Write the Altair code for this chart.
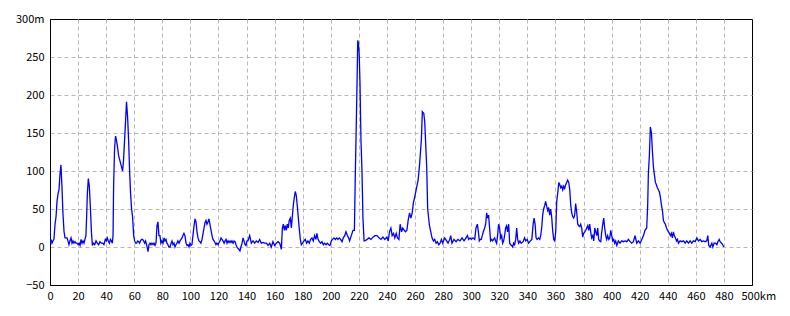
import altair as alt
import pandas as pd

# distance along route (km)
km = [
    0, 0.1, 0.7, 1.4, 2.1, 2.8, 3.6, 4.3, 5.0, 5.7, 6.4, 7.1, 7.8, 8.5, 9.2, 10.0, 10.7, 11.4, 12.1, 12.8,
    13.5, 14.2, 15.0, 15.7, 16.4, 17.1, 17.8, 18.5, 19.2, 20.0, 20.7, 21.4, 22.1, 22.8, 23.5, 24.2, 24.9, 25.6, 26.1, 26.6,
    27.3, 28.0, 28.7, 29.5, 30.2, 30.9, 31.8, 32.8, 33.7, 34.6, 35.6, 36.5, 37.5, 38.4, 39.4, 40.1, 40.8, 41.5, 42.3, 43.0,
    43.7, 44.4, 44.9, 45.3, 46.0, 46.7, 47.4, 48.2, 48.9, 49.6, 50.3, 51.0, 51.7, 52.4, 53.1, 53.8, 54.5, 55.3, 56.0, 56.7,
    57.4, 58.1, 58.8, 59.6, 60.3, 61.0, 61.7, 62.4, 63.1, 63.8, 64.5, 65.2, 65.9, 66.7, 67.4, 68.1, 68.8, 69.5,
    69.8, 70.5, 71.2, 71.9, 72.6, 73.4, 74.1, 74.8, 75.5, 76.2, 76.9, 77.6, 78.3, 79.0, 79.7, 80.5, 81.2, 81.9, 82.6, 83.3,
    84.0, 84.7, 85.5, 86.2, 86.9, 87.6, 88.3, 89.0, 89.7, 90.4, 91.1, 91.9, 92.6, 93.3, 94.0, 94.7, 95.4, 96.1, 96.9, 97.6,
    98.3, 99.0, 99.7, 100.4, 101.1, 101.8, 102.6, 103.3, 104.0, 104.7, 105.4, 106.1, 106.8, 107.5, 108.3, 109.0, 109.7, 110.4, 111.1, 111.8,
    112.5, 113.2, 113.9, 114.7, 115.4, 116.1, 116.8, 117.5, 118.2, 118.9, 119.7, 120.4, 121.1, 121.8, 122.5, 123.2, 124.0, 124.7, 125.4, 126.1,
    126.8, 127.5, 128.2, 128.9, 129.6, 130.4, 131.1, 131.8, 132.5, 133.2, 133.9, 134.6, 135.3, 136.0, 136.8, 137.5, 138.2, 138.9, 139.6, 140.3,
    141.0, 142.2, 143.4, 144.6, 145.8, 147.0, 148.2, 149.3, 150.5, 151.7, 152.9, 154.1, 155.3, 156.5, 157.6, 158.8, 160.0, 161.2, 162.4, 163.6,
    164.8, 165.5, 166.2, 166.9, 167.6, 168.3, 169.0, 169.7, 170.4, 171.2, 171.9, 172.6, 173.3, 174.0, 174.7, 175.4, 176.1, 176.8, 177.5, 178.3,
    179.0, 179.9, 180.9, 181.8, 182.8, 183.7, 184.7, 185.6, 186.6, 187.5, 188.5, 189.4, 190.1, 190.9, 191.8, 192.8, 193.7, 194.7, 195.6, 196.6,
    197.5, 198.5, 199.4, 200.4, 201.3, 202.3, 203.2, 204.2, 205.1, 206.1, 207.0, 208.0, 208.9, 209.9, 210.8, 211.8, 212.7,
    213.4, 214.6, 215.8, 216.8, 217.5, 218.2, 218.7, 219.2, 219.7, 220.2, 220.8, 221.5, 222.2, 222.9, 223.7, 224.3, 225.8, 227.2, 228.6, 230.0,
    231.5, 232.9, 234.3, 235.7, 237.1, 238.5, 239.9, 240.9, 241.8, 242.8, 243.7, 244.7, 245.6, 246.6, 247.5, 248.5, 249.4, 250.4, 251.3, 252.3,
    253.2, 254.2, 255.1, 256.1, 257.0, 258.0, 258.8, 259.8, 261.0, 262.2, 263.3, 264.5, 265.2, 266.2, 266.9, 267.6, 268.3, 269.0, 270.2, 271.2,
    272.1, 273.1, 274.0, 275.0, 275.9, 276.9, 277.8, 278.8, 279.7, 281.1, 282.5,
    283.5, 284.7, 285.4, 286.3, 287.7, 289.2, 290.6, 292.0, 293.5, 294.9, 296.3, 297.3, 298.2, 299.2, 300.1, 301.3, 302.5, 303.4, 304.4, 305.1,
    305.8, 306.5, 307.2, 307.9, 308.6, 309.6, 310.3, 311.0, 311.7, 312.4, 313.1, 313.8, 314.6, 315.3, 316.0, 316.7, 317.4, 318.1, 318.8, 319.5,
    320.2, 321.0, 321.7, 322.4, 323.1, 323.8, 324.5, 325.2, 325.9, 326.7, 327.4, 328.1, 328.8, 329.5, 330.2, 330.9, 331.7, 332.4, 333.1, 333.8,
    334.7, 335.6, 337.0, 338.0, 338.9, 339.9, 340.8, 342.2, 343.2, 344.1, 344.8, 345.5, 346.2,
    346.9, 347.9, 348.8, 349.5, 350.2, 350.9, 351.6, 352.4, 353.0, 353.6, 354.5, 355.2, 355.9, 356.6, 357.3, 358.1, 358.8, 359.5, 360.2, 360.9,
    361.6, 362.4, 363.1, 363.8, 364.5, 365.2, 365.9, 366.6, 367.3, 368.0, 368.7, 369.5, 370.2, 370.9, 371.6, 372.3, 373.0, 373.7, 374.4, 375.2,
    375.9, 376.6, 377.3, 378.0, 378.7, 379.4, 380.1, 380.9, 381.6, 382.3, 383.0, 383.7, 384.4, 385.1, 385.8, 386.6, 387.3, 388.0, 388.7, 389.4,
    390.1, 390.8, 391.5, 392.3, 393.0, 393.7, 394.4, 395.1, 395.8, 396.5, 397.2, 398.0, 398.7, 399.4, 400.1, 400.8, 401.5, 402.2, 402.9, 403.7,
    404.8, 406.0, 407.2, 408.4, 409.6, 410.8, 412.0, 413.2, 414.3, 415.5, 416.7, 417.9, 419.1, 420.3, 421.5, 422.7, 423.8, 425.0, 425.7, 426.2,
    426.9, 427.6, 428.4, 429.1, 429.8, 430.5, 431.2, 431.9, 432.6, 433.4, 434.1, 434.8, 435.5, 436.2, 436.9, 437.6, 438.3, 439.1, 439.8, 440.5,
    441.2, 441.9, 442.6, 443.3, 444.0, 444.7, 445.5, 446.2, 446.9, 447.6, 448.8, 450.0, 451.2, 452.4, 453.5, 454.7, 455.9, 457.1, 458.3, 459.5,
    460.7, 461.9, 463.1, 464.2, 465.4, 466.6, 467.8, 468.5, 469.2, 470.2, 471.4, 472.1, 473.0, 474.0, 475.0, 475.9, 476.6, 477.3, 478.3, 479.2,
    479.9,
]

# elevation (m)
elev = [
    55, 5, 10, 5, 8, 10, 30, 40, 60, 70, 75, 95, 108, 80, 45, 20, 12, 12, 12, 8,
    3, 8, 12, 5, 8, 5, 7, 5, 5, 3, 5, 2, 10, 5, 8, 5, 10, 15, 40, 70,
    90, 80, 55, 20, 2, 5, 3, 8, 5, 3, 7, 5, 5, 3, 10, 8, 12, 8, 5, 10,
    8, 5, 15, 80, 130, 146, 140, 130, 120, 115, 110, 105, 100, 115, 140, 165, 191, 170, 140, 100,
    70, 50, 40, 15, 8, 5, 5, 8, 7, 5, 8, 10, 10, 8, 5, 8, 3, -3,
    -6, 3, 5, 3, 5, 3, 5, 2, 5, 28, 33, 15, 15, 5, 8, 5, 12, 8, 10, 5,
    3, 0, 0, 5, 8, 3, 5, 0, 3, 5, 8, 5, 8, 10, 12, 15, 18, 15, 5, 2,
    3, 0, 5, 2, 3, 15, 28, 37, 33, 20, 12, 8, 7, 5, 10, 18, 25, 32, 35, 30,
    33, 37, 30, 22, 15, 10, 8, 6, 3, 5, 3, 6, 8, 12, 10, 8, 5, 8, 10, 5,
    8, 6, 8, 6, 8, 5, 8, 7, 3, 0, -2, -3, -5, 0, 5, 12, 8, 3, 2, 8,
    8, 15, 5, 8, 5, 8, 6, 10, 5, 6, 5, 5, 2, 5, 0, 7, 2, 5, 7, 5,
    -3, 25, 30, 22, 28, 22, 30, 25, 35, 38, 25, 40, 55, 65, 73, 68, 55, 40, 25, 10,
    3, 5, 8, 10, 5, 8, 5, 10, 12, 8, 15, 10, 18, 10, 7, 5, 7, 3, 5, 3,
    5, 3, 2, 8, 10, 12, 10, 12, 10, 12, 10, 7, 12, 15, 20, 15, 12,
    8, 15, 22, 22, 100, 167, 217, 272, 268, 255, 215, 140, 100, 38, 8, 8, 10, 12, 10, 13,
    15, 15, 12, 10, 13, 10, 13, 8, 20, 25, 15, 18, 12, 18, 12, 10, 30, 20, 25, 22,
    20, 22, 35, 45, 38, 45, 58, 66, 77, 88, 110, 141, 178, 176, 165, 135, 106, 50, 29, 20,
    12, 8, 10, 5, 7, 3, 5, 10, 5, 12, 8,
    5, 10, 15, 5, 10, 7, 10, 8, 12, 8, 12, 15, 10, 12, 10, 12, 10, 25, 30, 20,
    8, 10, 10, 15, 20, 25, 30, 45, 38, 42, 25, 8, 10, 8, 10, 12, 8, 5, 15, 30,
    25, 12, 15, 5, 8, 15, 25, 28, 20, 30, 5, 3, 2, 0, 5, 3, 10, 25, 10, 5,
    8, 5, 7, 12, 8, 10, 5, 8, 10, 30, 38, 30, 12,
    10, 12, 10, 15, 25, 42, 50, 55, 60, 55, 48, 52, 42, 50, 40, 20, 10, 8, 20, 60,
    70, 85, 82, 78, 80, 75, 80, 77, 82, 85, 88, 85, 75, 55, 45, 40, 38, 42, 57, 45,
    30, 28, 27, 30, 25, 13, 18, 20, 22, 25, 28, 22, 30, 20, 12, 15, 8, 25, 20, 15,
    25, 10, 8, 7, 20, 30, 38, 25, 15, 10, 15, 10, 12, 22, 15, 8, 10, 5, 8, 2,
    8, 5, 8, 7, 8, 7, 10, 7, 5, 7, 15, 5, 8, 5, 10, 15, 22, 25, 55, 97,
    120, 158, 150, 125, 105, 95, 85, 82, 78, 75, 72, 65, 55, 48, 35, 32, 30, 25, 22, 20,
    18, 15, 18, 12, 20, 15, 12, 8, 10, 5, 8, 7, 8, 5, 8, 5, 8, 5, 8, 7,
    12, 8, 10, 7, 8, 7, 8, 15, 2, 0, 5, 0, 5, 5, 3, 8, 10, 7, 5, 3,
    0,
]

x_ticks = list(range(0, 501, 20))
y_ticks = list(range(-50, 301, 50))

df = pd.DataFrame({"km": km, "elev": elev})

FONT = "Noto Sans CJK JP"

chart = (
    alt.Chart(df)
    .mark_line(color="#0000ff", strokeWidth=1.3, clip=True)
    .encode(
        x=alt.X(
            "km:Q",
            scale=alt.Scale(domain=[0, 500], nice=False, zero=False),
            axis=alt.Axis(
                values=x_ticks,
                title=None,
                grid=True,
                gridColor="#b8b8b8",
                gridDash=[4, 3],
                gridWidth=1,
                gridOpacity=alt.ExprRef("datum.value == 500 || datum.value == 0 ? 0 : 1"),
                ticks=False,
                tickSize=0,
                domainColor="#000000",
                domainWidth=1,
                labelFont=FONT,
                labelFontSize=11,
                labelColor="#000000",
                labelPadding=5,
                labelFlush=False,
                labelOverlap=False,
                labelExpr="datum.value == 500 ? '500km' : datum.label",
                labelAlign=alt.ExprRef("datum.value == 500 ? 'left' : 'center'"),
                labelOffset=alt.ExprRef("datum.value == 500 ? -11 : 0"),
            ),
        ),
        y=alt.Y(
            "elev:Q",
            scale=alt.Scale(domain=[-50, 300], nice=False, zero=False),
            axis=alt.Axis(
                values=y_ticks,
                title=None,
                grid=True,
                gridColor="#b8b8b8",
                gridDash=[4, 3],
                gridWidth=1,
                gridOpacity=alt.ExprRef("datum.value == 300 || datum.value == -50 ? 0 : 1"),
                ticks=False,
                tickSize=0,
                domainColor="#000000",
                domainWidth=1,
                labelFont=FONT,
                labelFontSize=11,
                labelColor="#000000",
                labelPadding=6,
                labelFlush=False,
                labelOverlap=False,
                labelExpr="datum.value == 300 ? '300m' : datum.label",
            ),
        ),
    )
    .properties(
        width=702,
        height=266,
        autosize=alt.AutoSizeParams(type="none"),
        padding={"left": 50, "top": 19, "right": 38, "bottom": 31},
        background="#ffffff",
    )
    .configure_view(stroke="#000000", strokeWidth=1)
)

chart.save("out.html", embed_options={"renderer": "svg", "actions": False})
